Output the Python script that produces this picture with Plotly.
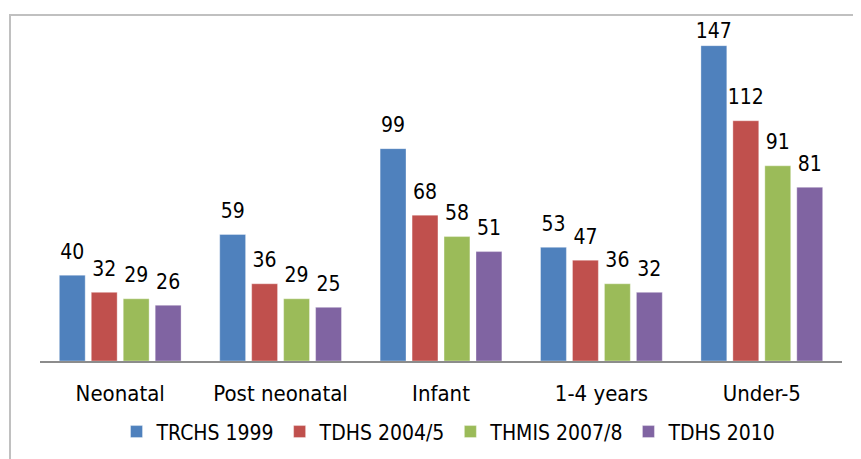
import plotly.graph_objects as go

categories = ["Neonatal", "Post neonatal", "Infant", "1-4 years", "Under-5"]
series_names = ["TRCHS 1999", "TDHS 2004/5", "THMIS 2007/8", "TDHS 2010"]
trchs_1999 = [40, 59, 99, 53, 147]
tdhs_2004 = [32, 36, 68, 47, 112]
thmis_2007 = [29, 29, 58, 36, 91]
tdhs_2010 = [26, 25, 51, 32, 81]
colors = ["#4F81BD", "#C0504D", "#9BBB59", "#8064A2"]

FONT = "Liberation Sans Narrow, Arial Narrow, DejaVu Sans Condensed, sans-serif"
Y_MAX = 161.3
LABEL_PAD = 4.0      # y-units of empty space between bar top and its label
LABEL_HEIGHT = 11.0  # approx. label height in y-units (used to keep labels inside the chart)

fig = go.Figure()
all_series = [trchs_1999, tdhs_2004, thmis_2007, tdhs_2010]
for i, (name, vals, col) in enumerate(zip(series_names, all_series, colors)):
    fig.add_trace(go.Bar(
        x=categories, y=vals, name=name, offsetgroup=str(i),
        marker=dict(color=col, line=dict(width=1, color="rgba(255,255,255,0.35)")),
        hoverinfo="skip",
    ))
    # like Excel, labels that would leave the chart area are nudged down onto the bar
    pads = [LABEL_PAD if v + LABEL_PAD + LABEL_HEIGHT <= Y_MAX else 0.01 for v in vals]
    fig.add_trace(go.Bar(
        x=categories, y=pads, base=vals, offsetgroup=str(i),
        marker=dict(color="rgba(0,0,0,0)", line=dict(width=0)),
        text=[str(v) for v in vals], textposition="outside", constraintext="none",
        textfont=dict(family=FONT, size=21, color="#000000"),
        cliponaxis=False, showlegend=False, hoverinfo="skip",
    ))

fig.update_layout(
    width=853, height=451,
    margin=dict(l=32, r=19, t=7, b=94),
    paper_bgcolor="white", plot_bgcolor="white",
    barmode="group", bargap=0.203, bargroupgap=0.19,
    showlegend=True,
    legend=dict(orientation="h", x=0.51, xanchor="center", y=-0.205, yanchor="middle",
                font=dict(family=FONT, size=21, color="#000000"),
                itemwidth=30, traceorder="normal"),
    shapes=[dict(type="rect", xref="paper", yref="paper",
                 x0=-0.0374, x1=1.2, y0=-0.6, y1=1.0,
                 line=dict(color="#C0C0C0", width=2), layer="below")],
)
fig.update_xaxes(showline=True, linecolor="#8C8C8C", linewidth=2,
                 ticks="outside", ticklen=12, tickcolor="rgba(0,0,0,0)",
                 tickfont=dict(family=FONT, size=22, color="#000000"),
                 showgrid=False, zeroline=False, fixedrange=True)
fig.update_yaxes(visible=False, range=[0, Y_MAX], showgrid=False, zeroline=False)

fig.write_html("out.html")
